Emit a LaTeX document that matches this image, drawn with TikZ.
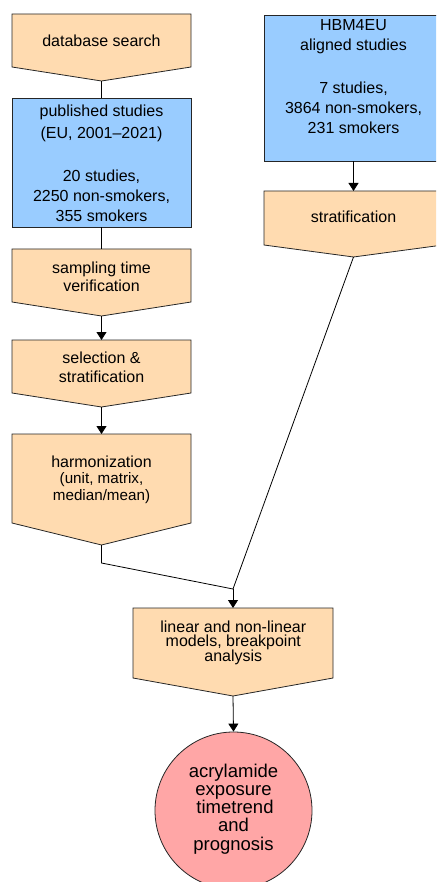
\documentclass[tikz,border=0pt]{standalone}
\usepackage{fontspec}
\setmainfont{Liberation Sans}
\usetikzlibrary{arrows.meta}
\definecolor{peach}{HTML}{FFDBB0}
\definecolor{skyb}{HTML}{99CCFF}
\definecolor{rosy}{HTML}{FFA6A6}
\tikzset{
  shapeline/.style={draw=black!85, line width=0.8pt},
  pent/.style={shapeline, fill=peach},
  bluebox/.style={shapeline, fill=skyb},
  txt/.style={anchor=base, inner sep=0pt, font=\fontsize{16}{19}\selectfont},
  smalltxt/.style={anchor=base, inner sep=0pt, font=\fontsize{15.2}{18}\selectfont},
  bigtxt/.style={anchor=base, inner sep=0pt, font=\fontsize{18.5}{21}\selectfont},
  conn/.style={draw=black, line width=0.8pt},
  arr/.style={conn, -{Triangle[length=8pt,width=10pt]}}
}
% name, cx, halfwidth, top, side bottom, point
\newcommand\pentbox[6]{%
  \path[pent] (#2-#3,#4) -- (#2+#3,#4) -- (#2+#3,#5) -- (#2,#6) -- (#2-#3,#5) -- cycle;
  \coordinate (#1-top) at (#2,#4);
  \coordinate (#1-bot) at (#2,#6);
}
\begin{document}
\begin{tikzpicture}[x=1pt,y=-1pt]
\useasboundingbox (0,0) rectangle (436,882);
\clip (0,0) rectangle (436,882);
% left column
\pentbox{db}{101.5}{89.5}{14}{67}{81}
\node[txt] (dbt) at (101.5,47) {database search};

\node[bluebox, rectangle, minimum width=179pt, minimum height=129pt, inner sep=0pt] (pub) at (101.5,162.5) {};
\node[txt] (pub1) at (101.5,117) {published studies};
\node[txt] (pub2) at (101.5,139) {(EU, 2001--2021)};
\node[txt] (pub3) at (101.5,181.5) {20 studies,};
\node[txt] (pub4) at (101.5,201.8) {2250 non-smokers,};
\node[txt] (pub5) at (101.5,221.8) {355 smokers};

\pentbox{samp}{101.5}{89.5}{249}{302}{316}
\node[txt] (samp1) at (101.5,273.3) {sampling time};
\node[txt] (samp2) at (101.5,291) {verification};

\pentbox{sel}{101.5}{89.5}{340}{393}{407}
\node[txt] (sel1) at (101.5,363.7) {selection \&};
\node[txt] (sel2) at (101.5,382) {stratification};

\pentbox{harm}{101.5}{89.5}{434}{523}{545}
\node[txt] (harm1) at (101.5,467.3) {harmonization};
\node[smalltxt] (harm2) at (101.5,483.5) {(unit, matrix,};
\node[smalltxt] (harm3) at (101.5,500) {median/mean)};

% right column
\node[bluebox, rectangle, minimum width=179pt, minimum height=146pt, inner sep=0pt] (hbm) at (353.5,88) {};
\node[txt] (hbm1) at (353.5,30.7) {HBM4EU};
\node[txt] (hbm2) at (353.5,50.7) {aligned studies};
\node[txt] (hbm3) at (353.5,93.3) {7 studies,};
\node[txt] (hbm4) at (353.5,113.3) {3864 non-smokers,};
\node[txt] (hbm5) at (353.5,133.7) {231 smokers};

\pentbox{strat}{353.5}{89.5}{191}{245}{257}
\node[txt] (strat1) at (353.5,222.7) {stratification};

% models
\pentbox{lin}{233}{100}{608}{678}{696}
\node[txt] (lin1) at (233.3,632.3) {linear and non-linear};
\node[txt] (lin2) at (233.3,646.8) {models, breakpoint};
\node[txt] (lin3) at (233.3,661.3) {analysis};

% result
\node[shapeline, fill=rosy, circle, minimum size=157pt, inner sep=0pt] (res) at (233.5,810.5) {};
\node[bigtxt] (res1) at (233.5,777.5) {acrylamide};
\node[bigtxt] (res2) at (233.5,795.3) {exposure};
\node[bigtxt] (res3) at (235,813.5) {timetrend};
\node[bigtxt] (res4) at (233.5,831.7) {and};
\node[bigtxt] (res5) at (233.5,850) {prognosis};

% connectors
\coordinate (bend) at (101.5,563);
\coordinate (merge) at (233,589);
\draw[conn] (db-bot) -- (pub.north);
\draw[conn] (pub.south) -- (samp-top);
\draw[arr] (samp-bot) -- (sel-top);
\draw[arr] (sel-bot) -- (harm-top);
\draw[arr] (hbm.south) -- (strat-top);
\draw[conn] (harm-bot) -- (bend) -- (merge);
\draw[conn] (strat-bot) -- (merge);
\draw[arr] (merge) -- (lin-top);
\draw[arr] (lin-bot) -- (res.north);
\end{tikzpicture}
\end{document}
